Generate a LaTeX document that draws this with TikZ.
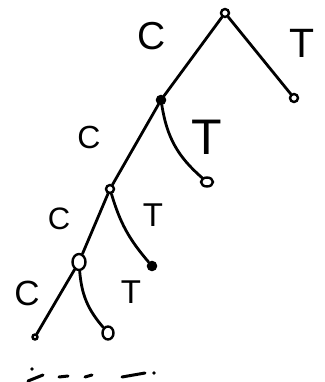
\documentclass[tikz,border=0pt]{standalone}
\usepackage{fontspec}
\setmainfont{Liberation Sans}
\usetikzlibrary{shapes.geometric}
\begin{document}
\begin{tikzpicture}[x=1pt,y=-1pt,
  vert/.style={circle,draw,line width=2.4pt,inner sep=0pt,minimum size=8pt},
  evert/.style={ellipse,draw,line width=2.4pt,inner sep=0pt},
  edge/.style={line width=2.8pt,line cap=round},
  lab/.style={inner sep=0pt},
  dotmark/.style={line width=3pt,line cap=round}]
\useasboundingbox (0,0) rectangle (324,382);
% vertices
\node[vert] (n0) at (225,13) {};
\node[vert] (r0) at (294,98) {};
\node[vert,fill] (n1) at (161,100) {};
\node[evert,minimum width=12pt,minimum height=9pt] (r1) at (207,182) {};
\node[vert] (n2) at (110,189) {};
\node[vert,fill,minimum size=8pt] (r2) at (152,266) {};
\node[evert,minimum width=13pt,minimum height=16pt] (n3) at (79,262) {};
\node[vert,minimum size=5pt] (l3) at (35,337) {};
\node[evert,minimum width=11pt,minimum height=13pt] (r3) at (108,333) {};
% edges
\draw[edge] (n0) -- (n1);
\draw[edge] (n0) -- (r0);
\draw[edge] (n1) -- (n2);
\draw[edge] (n1) to[bend right=20] (r1);
\draw[edge] (n2) -- (n3);
\draw[edge] (n2) to[bend right=12] (r2);
\draw[edge] (n3) -- (l3);
\draw[edge] (n3) to[bend right=18] (r3);
% labels
\node[lab,font=\fontsize{39}{39}\selectfont] (c0) at (152,36) {C};
\node[lab,font=\fontsize{41}{41}\selectfont] (t0) at (302,43) {T};
\node[lab,font=\fontsize{32}{32}\selectfont] (c1) at (89,137) {C};
\node[lab,font=\fontsize{50}{50}\selectfont] (t1) at (207,137) {T};
\node[lab,font=\fontsize{31}{31}\selectfont] (c2) at (59,219) {C};
\node[lab,font=\fontsize{33}{33}\selectfont] (t2) at (153,215) {T};
\node[lab,font=\fontsize{35}{35}\selectfont] (c3) at (27,293) {C};
\node[lab,font=\fontsize{33}{33}\selectfont] (t3) at (131,292) {T};
% dots at the bottom
\fill (32,369) circle (1.8pt);
\draw[dotmark] (28,381) -- (43,375);
\draw[dotmark] (59,377) -- (68,376);
\draw[dotmark] (85,377) -- (92,375);
\draw[dotmark] (122,377) -- (145,373);
\fill (154,373) circle (1.8pt);
\end{tikzpicture}
\end{document}
